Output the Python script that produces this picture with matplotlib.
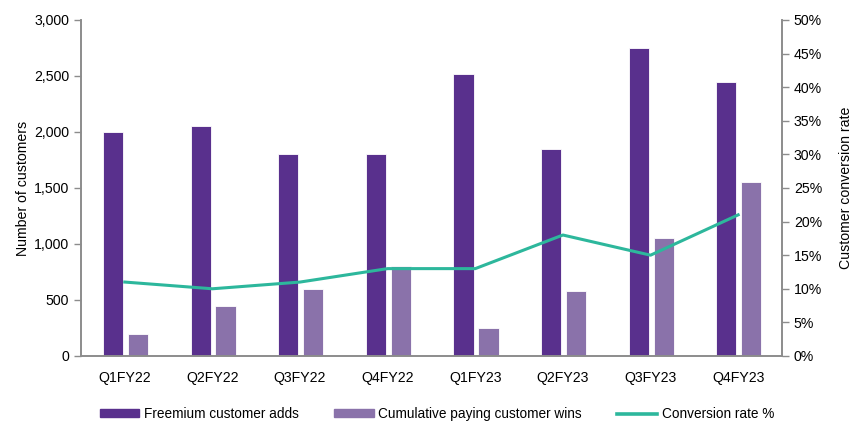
import matplotlib.pyplot as plt
import matplotlib.patches as patches
from matplotlib.lines import Line2D
from matplotlib.ticker import FuncFormatter, MultipleLocator
import numpy as np

plt.rcParams['font.family'] = ['Liberation Sans', 'DejaVu Sans']

quarters = ["Q1FY22", "Q2FY22", "Q3FY22", "Q4FY22", "Q1FY23", "Q2FY23", "Q3FY23", "Q4FY23"]
freemium_adds = [2000, 2050, 1800, 1800, 2520, 1845, 2750, 2450]
paying_wins = [200, 450, 600, 800, 250, 580, 1050, 1550]
conversion_pct = [11, 10, 11, 13, 13, 18, 15, 21]

ROXO = "#59308D"
LILAS = "#8A72AA"
VERDE = "#2DB79C"
CINZA = "#8C8C8C"
FS = 10.2

fig = plt.figure(figsize=(8.55, 4.25), dpi=100)
ax = fig.add_axes([0.0947, 0.1624, 0.8199, 0.7906])
ax2 = ax.twinx()

x = np.arange(len(quarters))
w = 0.23
ax.bar(x - 0.135, freemium_adds, width=w, color=ROXO, edgecolor="white", linewidth=0.6)
ax.bar(x + 0.15, paying_wins, width=w, color=LILAS, edgecolor="white", linewidth=0.6)
ax2.plot(x, conversion_pct, color=VERDE, lw=2.2)

ax.set_xlim(-0.5, len(quarters) - 0.5)
ax.set_ylim(0, 3000)
ax2.set_ylim(0, 50)
ax.yaxis.set_major_locator(MultipleLocator(500))
ax2.yaxis.set_major_locator(MultipleLocator(5))
ax.yaxis.set_major_formatter(FuncFormatter(lambda v, p: f"{v:,.0f}"))
ax2.yaxis.set_major_formatter(FuncFormatter(lambda v, p: f"{v:.0f}%"))

ax.set_xticks(x)
ax.set_xticklabels(quarters)

for a in (ax, ax2):
    a.spines["top"].set_visible(False)
    for s in ("left", "right", "bottom"):
        a.spines[s].set_color(CINZA)
        a.spines[s].set_linewidth(1.2)
    a.tick_params(axis="y", colors=CINZA, labelcolor="black", labelsize=FS, length=5, width=1)
    a.tick_params(axis="x", length=0, labelsize=FS, pad=11)

ax.set_ylabel("Number of customers", fontsize=FS, labelpad=3)
ax2.set_ylabel("Customer conversion rate", fontsize=FS, labelpad=12)

handles = [
    patches.Patch(color=ROXO, label="Freemium customer adds"),
    patches.Patch(color=LILAS, label="Cumulative paying customer wins"),
    Line2D([0], [0], color=VERDE, lw=2.6, label="Conversion rate %"),
]
fig.legend(handles=handles, loc="center", bbox_to_anchor=(0.511, 0.026), ncol=3,
           frameon=False, fontsize=9.8, handlelength=2.9, handleheight=0.45,
           columnspacing=2.6, handletextpad=0.35, borderpad=0)

fig.savefig("out.png", dpi=100)
